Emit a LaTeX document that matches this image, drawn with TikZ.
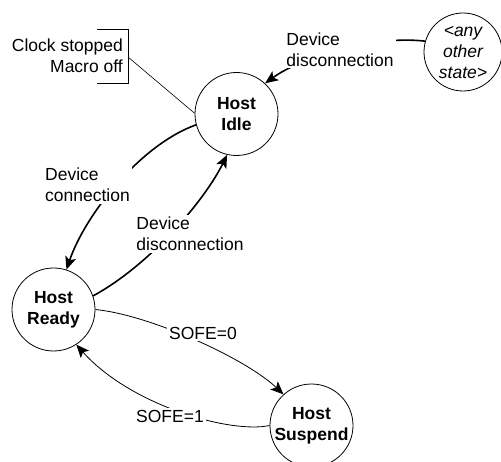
\documentclass[tikz,border=0pt]{standalone}
\usepackage{fontspec}
\setmainfont{Liberation Sans}
\usetikzlibrary{arrows.meta}
\begin{document}
\begin{tikzpicture}[x=1pt,y=-1pt,
  every node/.style={font=\fontsize{17.5}{21}\selectfont},
  state/.style={circle,draw,line width=0.8pt,minimum size=83pt,inner sep=0pt,align=center,font=\fontsize{17.5}{21}\selectfont\bfseries},
  otherstate/.style={circle,draw,line width=0.8pt,minimum size=78pt,inner sep=0pt,align=center,font=\fontsize{17.5}{21}\selectfont\itshape},
  lbl/.style={fill=white,inner sep=2pt,align=left},
  arr/.style={-{Stealth[length=13pt,width=11pt,inset=3pt]}},
  thickedge/.style={arr,line width=1.6pt},
  thinedge/.style={arr,line width=0.8pt},
  noteline/.style={line width=0.6pt}]
\useasboundingbox (0,0) rectangle (501,462);

% states
\node[state] (idle) at (236.5,114) {Host\\Idle};
\node[otherstate] (other) at (463,52) {<any\\other\\state>};
\node[state] (ready) at (53.5,309.5) {Host\\Ready};
\node[state] (suspend) at (311.5,425.5) {Host\\Suspend};

% note
\node[anchor=east,align=right,inner sep=2pt] (note) at (125,55.5) {Clock stopped\\Macro off};
\draw[noteline] (97,29) -| (128,83) -- (97,83);
\coordinate (notept) at (128,57);
\draw[noteline] (notept) -- (idle.179);

% transitions
\draw[thickedge] (other.164) .. controls (370,35) and (300,58) .. (idle.47);
\draw[thickedge] (idle.195) .. controls (140,145) and (85,215) .. (ready.72);
\draw[thickedge] (ready.19) .. controls (150,265) and (205,200) .. (idle.257);
\draw[thinedge] (ready.0) .. controls (150,315) and (245,358) .. (suspend.132);
\draw[thinedge] (suspend.180) .. controls (230,434) and (130,405) .. (ready.303);

% labels
\node[lbl] (l1) at (340,49.5) {Device\\disconnection};
\node[lbl] (l2) at (87.5,185) {Device\\connection};
\node[lbl] (l3) at (190,234) {Device\\disconnection};
\node[lbl] (l4) at (203,333) {SOFE=0};
\node[lbl] (l5) at (170,416) {SOFE=1};
\end{tikzpicture}
\end{document}
